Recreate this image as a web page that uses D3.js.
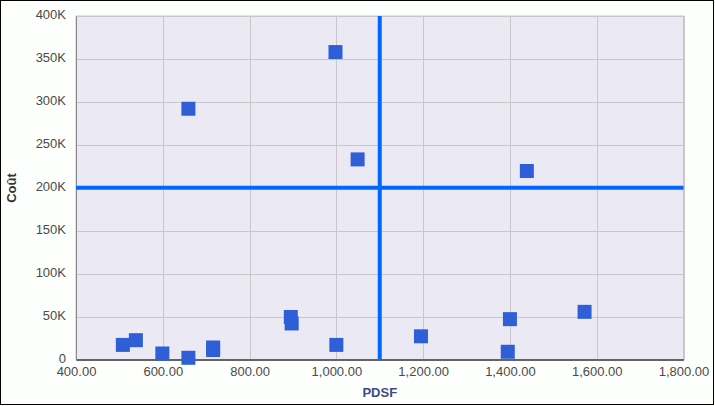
<!DOCTYPE html>
<html><head><meta charset="utf-8">
<script src="https://cdn.jsdelivr.net/npm/d3@7"></script>
<style>body{margin:0;background:#fdfffd;}svg{display:block;font-family:"Liberation Sans",Arial,sans-serif;}</style>
</head><body>
<svg id="c" width="715" height="406"></svg>
<script>
const pdsf = [508, 538, 599, 659, 716, 716, 895, 897, 1000, 659, 998, 1049, 1439, 1195, 1400, 1395, 1572];
const cout = [17000, 22500, 7000, 2000, 14000, 11000, 49500, 42000, 17000, 292000, 358000, 233000, 219500, 27000, 47000, 9000, 55500];
const xTicks = [400, 600, 800, 1000, 1200, 1400, 1600, 1800];
const yTicks = [0, 50000, 100000, 150000, 200000, 250000, 300000, 350000, 400000];
const refX = 1100, refY = 200000;
const xTitle = "PDSF", yTitle = "Coût";

const svg = d3.select("#c");
const L = 76, R = 683.5, T = 16, B = 359.5;
const x = d3.scaleLinear().domain([400, 1800]).range([L, R]);
const y = d3.scaleLinear().domain([0, 400000]).range([B, T]);

svg.append("rect").attr("x",0.5).attr("y",0.5).attr("width",713).attr("height",404).attr("fill","#fdfffd").attr("stroke","#000");
svg.append("rect").attr("x",L).attr("y",T).attr("width",R-L).attr("height",B-T).attr("fill","#ebe9f4").attr("stroke","#c8c8c8");

const g = svg.append("g");
g.selectAll(".gx").data(xTicks).join("line").attr("x1",d=>Math.round(x(d))+0.5).attr("x2",d=>Math.round(x(d))+0.5).attr("y1",T).attr("y2",B).attr("stroke","#c8c8c8");
g.selectAll(".gy").data(yTicks).join("line").attr("y1",d=>Math.round(y(d))+0.5).attr("y2",d=>Math.round(y(d))+0.5).attr("x1",L).attr("x2",R).attr("stroke","#c8c8c8");

const fmtX = d3.format(",.2f");
const fmtY = d => d === 0 ? "0" : (d/1000) + "K";

const xa = svg.append("g").attr("transform",`translate(0,${B})`).call(d3.axisBottom(x).tickValues(xTicks).tickFormat(fmtX).tickSize(0).tickPadding(7));
xa.select(".domain").attr("stroke","#000");
xa.selectAll("text").attr("font-size","13px").attr("fill","#4a4a4a").attr("font-family","Liberation Sans, Arial, sans-serif");
const ya = svg.append("g").attr("transform",`translate(${L},0)`).call(d3.axisLeft(y).tickValues(yTicks).tickFormat(fmtY).tickSize(0).tickPadding(10));
ya.select(".domain").attr("stroke","#888");
ya.selectAll("text").attr("font-size","13px").attr("fill","#4a4a4a").attr("dy","0.2em").attr("font-family","Liberation Sans, Arial, sans-serif");

// reference lines
svg.append("line").attr("x1",L).attr("x2",R).attr("y1",y(refY)).attr("y2",y(refY)).attr("stroke","#0066ff").attr("stroke-width",4);
svg.append("line").attr("x1",x(refX)).attr("x2",x(refX)).attr("y1",T).attr("y2",B).attr("stroke","#0066ff").attr("stroke-width",4);

const pts = pdsf.map((v,i)=>({x:v,y:cout[i]}));
svg.selectAll(".pt").data(pts).join("rect").attr("x",d=>x(d.x)-7).attr("y",d=>y(d.y)-7).attr("width",14).attr("height",14).attr("fill","#2f5fd6");

svg.append("text").attr("x",(L+R)/2).attr("y",397).attr("text-anchor","middle").attr("font-size","13px").attr("font-weight","bold").attr("fill","#3b4b86").text(xTitle);
svg.append("text").attr("transform","translate(16,188) rotate(-90)").attr("text-anchor","middle").attr("font-size","13px").attr("font-weight","bold").attr("fill","#333").text(yTitle);
</script>
</body></html>
